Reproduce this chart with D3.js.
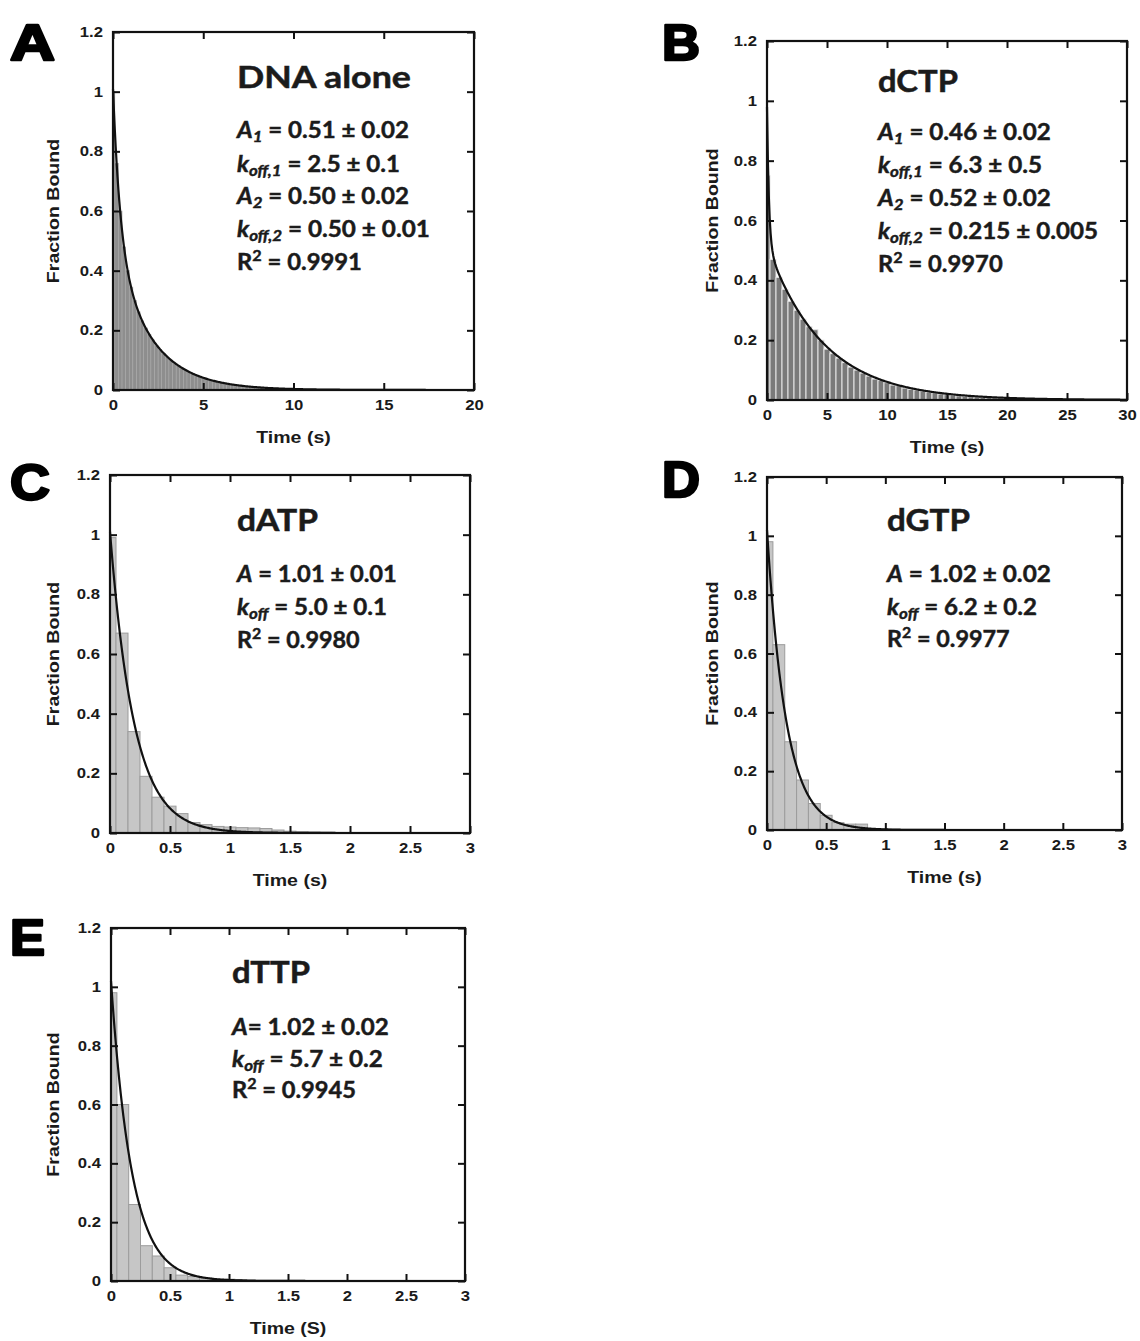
<!DOCTYPE html>
<html>
<head>
<meta charset="utf-8">
<script src="https://cdn.jsdelivr.net/npm/d3@7"></script>
<style>
  body { margin: 0; background: #fff; }
  svg { display: block; }
</style>
</head>
<body>
<svg id="fig" width="1140" height="1341"></svg>
<script>
// Fraction of complexes still bound vs. time, with single/double exponential fits

const panelLetters = ["A", "B", "C", "D", "E"];
const panelNames = ["DNA alone", "dCTP", "dATP", "dGTP", "dTTP"];
const timeTitles = ["Time (s)", "Time (s)", "Time (s)", "Time (s)", "Time (S)"];
const yTitle = "Fraction Bound";

const yTickValues = [0, 0.2, 0.4, 0.6, 0.8, 1, 1.2];
const xTickValues = [
  [0, 5, 10, 15, 20],
  [0, 5, 10, 15, 20, 25, 30],
  [0, 0.5, 1, 1.5, 2, 2.5, 3],
  [0, 0.5, 1, 1.5, 2, 2.5, 3],
  [0, 0.5, 1, 1.5, 2, 2.5, 3]
];

// Fit parameters (amplitude, k_off) as printed, with errors
const ampValues  = [["0.51", "0.50"], ["0.46", "0.52"], ["1.01"], ["1.02"], ["1.02"]];
const ampErrors  = [["0.02", "0.02"], ["0.02", "0.02"], ["0.01"], ["0.02"], ["0.02"]];
const koffValues = [["2.5", "0.50"], ["6.3", "0.215"], ["5.0"], ["6.2"], ["5.7"]];
const koffErrors = [["0.1", "0.01"], ["0.5", "0.005"], ["0.1"], ["0.2"], ["0.2"]];
const rSquared   = ["0.9991", "0.9970", "0.9980", "0.9977", "0.9945"];

// Histogram bins: width (s); bins are centred on multiples of the width
const binWidths = [0.2, 0.5, 0.1, 0.1, 0.1];

// Fraction bound per bin
const fracDNA = [1.00, 0.76, 0.60, 0.48, 0.40, 0.345, 0.30, 0.262, 0.232, 0.208,
  0.186, 0.168, 0.15, 0.136, 0.122, 0.11, 0.10, 0.09, 0.082, 0.074,
  0.067, 0.06, 0.055, 0.05, 0.045, 0.04, 0.037, 0.033, 0.03, 0.027,
  0.025, 0.022, 0.02, 0.018, 0.017, 0.015, 0.014, 0.012, 0.011, 0.010,
  0.009, 0.008, 0.007, 0.007, 0.006, 0.005, 0.005, 0.004, 0.004, 0.003,
  0.003, 0.003, 0.002, 0.002, 0.002, 0.002];
const fracDCTP = [0.75, 0.47, 0.41, 0.37, 0.33, 0.30, 0.27, 0.245, 0.235, 0.20,
  0.17, 0.155, 0.14, 0.125, 0.11, 0.10, 0.09, 0.08, 0.07, 0.065,
  0.058, 0.05, 0.048, 0.04, 0.036, 0.033, 0.03, 0.026, 0.024, 0.02,
  0.018, 0.016, 0.014, 0.012, 0.011, 0.010, 0.009, 0.008, 0.007, 0.006,
  0.005, 0.005, 0.004, 0.004, 0.003];
const fracDATP = [0.99, 0.67, 0.34, 0.19, 0.12, 0.09, 0.065, 0.035, 0.028, 0.022,
  0.02, 0.018, 0.017, 0.015, 0.01, 0.006, 0.004, 0.003, 0.002];
const fracDGTP = [0.98, 0.63, 0.30, 0.17, 0.09, 0.05, 0.025, 0.02, 0.02, 0.005, 0.003];
const fracDTTP = [0.98, 0.60, 0.26, 0.12, 0.085, 0.045, 0.02, 0.015, 0.01, 0.005, 0.006, 0.005];
const fracBound = [fracDNA, fracDCTP, fracDATP, fracDGTP, fracDTTP];

// ---- layout ----
const frames = [
  { l: 113, r: 474, t: 32,  b: 390,  letter: [10, 60, 45],  yTitleX: 53 },
  { l: 767, r: 1127, t: 41, b: 400,  letter: [662, 60, 38], yTitleX: 712 },
  { l: 110, r: 470, t: 475, b: 833,  letter: [10, 500, 40], yTitleX: 53 },
  { l: 767, r: 1122, t: 477, b: 830, letter: [662, 497, 38], yTitleX: 712 },
  { l: 111, r: 465, t: 928, b: 1281, letter: [10, 955, 35], yTitleX: 53 }
];
const annot = [
  { x: 237, title: 88,  titleW: 174, lines: [138, 172, 204, 237, 270], widths: [173, 163, 173, 193, 125] },
  { x: 878, title: 92,  titleW: 80,  lines: [140, 173, 206, 239, 272], widths: [174, 164, 174, 220, 125] },
  { x: 237, title: 531, titleW: 81,  lines: [582, 615, 648], widths: [161, 150, 123] },
  { x: 887, title: 531, titleW: 83,  lines: [582, 615, 647], widths: [165, 150, 123] },
  { x: 232, title: 983, titleW: 78,  lines: [1035, 1067, 1098], widths: [158, 151, 124] }
];
const barStyles = [
  { fill: "#8e8e8e", stroke: "#a8a8a8", sw: 0.6 },
  { fill: "#7a7a7a", stroke: "#e6e6e6", sw: 1 },
  { fill: "#c6c6c6", stroke: "#9c9c9c", sw: 1 },
  { fill: "#c6c6c6", stroke: "#9c9c9c", sw: 1 },
  { fill: "#c6c6c6", stroke: "#9c9c9c", sw: 1 }
];

const svg = d3.select("#fig");
const AX_FONT = "'Liberation Sans', Arial, sans-serif";
const NOTE_FONT = "Lato, 'Open Sans', sans-serif";
const STRETCH = 1.15;

// scale a start-anchored text horizontally to a target width
function fitText(sel, targetW, x, y) {
  const w = sel.node().getBBox().width;
  sel.attr("transform", `translate(${x},${y}) scale(${targetW / w},1)`);
}

function richText(g, segs, size) {
  const t = g.append("text")
    .attr("font-family", NOTE_FONT)
    .attr("font-weight", 700)
    .attr("font-size", size)
    .attr("fill", "#1b1b1b")
    .attr("stroke", "#1b1b1b")
    .attr("stroke-width", 0.45);
  let shift = 0;
  segs.forEach(s => {
    const sp = t.append("tspan").text(s.t);
    if (s.it) sp.attr("font-style", "italic");
    let target = 0;
    if (s.sub) { sp.attr("font-size", size * 0.7); target = 4; }
    if (s.sup) { sp.attr("font-size", size * 0.68); target = -9; }
    sp.attr("dy", target - shift);
    shift = target;
  });
  return t;
}

frames.forEach((f, p) => {
  const g = svg.append("g");
  const xMax = xTickValues[p][xTickValues[p].length - 1];
  const x = d3.scaleLinear().domain([0, xMax]).range([f.l, f.r]);
  const y = d3.scaleLinear().domain([0, 1.2]).range([f.b, f.t]);

  // histogram bars
  const w = binWidths[p];
  const bins = fracBound[p].map((v, i) => {
    const c = i * w;
    return { x0: Math.max(0, c - w / 2), x1: c + w / 2, v };
  });
  g.append("g").selectAll("rect").data(bins).join("rect")
    .attr("x", d => x(d.x0))
    .attr("width", d => x(d.x1) - x(d.x0))
    .attr("y", d => y(d.v))
    .attr("height", d => y(0) - y(d.v))
    .attr("fill", barStyles[p].fill)
    .attr("stroke", barStyles[p].stroke)
    .attr("stroke-width", barStyles[p].sw);

  // fitted exponential decay
  const amps = ampValues[p].map(Number);
  const ks = koffValues[p].map(Number);
  const fit = t => d3.sum(amps, (a, i) => a * Math.exp(-ks[i] * t));
  const ts = d3.range(0, 401).map(i => i * xMax / 400);
  g.append("path")
    .attr("d", d3.line().x(t => x(t)).y(t => y(fit(t)))(ts))
    .attr("fill", "none")
    .attr("stroke", "#111")
    .attr("stroke-width", 2.2);

  // axes with inward ticks on all four sides
  const fmt = d => String(d);
  const axB = g.append("g").attr("transform", `translate(0,${f.b})`)
    .call(d3.axisBottom(x).tickValues(xTickValues[p]).tickFormat(fmt).tickSize(-7).tickPadding(10));
  const axL = g.append("g").attr("transform", `translate(${f.l},0)`)
    .call(d3.axisLeft(y).tickValues(yTickValues).tickFormat(fmt).tickSize(-7).tickPadding(10));
  g.append("g").attr("transform", `translate(0,${f.t})`)
    .call(d3.axisTop(x).tickValues(xTickValues[p]).tickFormat("").tickSize(-7));
  g.append("g").attr("transform", `translate(${f.r},0)`)
    .call(d3.axisRight(y).tickValues(yTickValues).tickFormat("").tickSize(-7));
  g.selectAll(".domain").remove();
  g.selectAll(".tick line").attr("stroke", "#111").attr("stroke-width", 2);
  g.selectAll(".tick text")
    .attr("font-family", AX_FONT).attr("font-weight", 700).attr("font-size", 14.5)
    .attr("fill", "#1a1a1a");
  axB.selectAll(".tick text").attr("transform", `scale(${STRETCH},1)`);
  axL.selectAll(".tick text").attr("x", -10 / STRETCH).attr("transform", `scale(${STRETCH},1)`);

  g.append("rect")
    .attr("x", f.l).attr("y", f.t).attr("width", f.r - f.l).attr("height", f.b - f.t)
    .attr("fill", "none").attr("stroke", "#111").attr("stroke-width", 2.2);

  // axis titles
  g.append("text").text(timeTitles[p])
    .attr("font-family", AX_FONT).attr("font-weight", 700).attr("font-size", 17)
    .attr("text-anchor", "middle").attr("dy", "0.35em").attr("fill", "#1a1a1a")
    .attr("transform", `translate(${(f.l + f.r) / 2},${f.b + 47}) scale(${STRETCH},1)`);
  g.append("text").text(yTitle)
    .attr("font-family", AX_FONT).attr("font-weight", 700).attr("font-size", 17)
    .attr("text-anchor", "middle").attr("dy", "0.35em").attr("fill", "#1a1a1a")
    .attr("transform", `translate(${f.yTitleX},${(f.t + f.b) / 2}) rotate(-90) scale(${STRETCH},1)`);

  // panel letter
  const lt = g.append("text").text(panelLetters[p])
    .attr("font-family", AX_FONT).attr("font-weight", 700).attr("font-size", 50)
    .attr("fill", "#000").attr("stroke", "#000").attr("stroke-width", 2.5)
    .attr("stroke-linejoin", "round");
  fitText(lt, f.letter[2], f.letter[0], f.letter[1]);

  // annotation: name and fit parameters
  const a = annot[p];
  const tt = g.append("text").text(panelNames[p])
    .attr("font-family", NOTE_FONT).attr("font-weight", 700).attr("font-size", 30)
    .attr("fill", "#1b1b1b").attr("stroke", "#1b1b1b").attr("stroke-width", 0.5);
  fitText(tt, a.titleW, a.x, a.title);

  const lines = [];
  const two = ampValues[p].length > 1;
  ampValues[p].forEach((av, i) => {
    const eq = (p === 4) ? "= " : " = ";
    lines.push(two
      ? [{ t: "A", it: true }, { t: String(i + 1), it: true, sub: true }, { t: ` = ${av} ± ${ampErrors[p][i]}` }]
      : [{ t: "A", it: true }, { t: `${eq}${av} ± ${ampErrors[p][i]}` }]);
    lines.push([{ t: "k", it: true }, { t: two ? `off,${i + 1}` : "off", it: true, sub: true },
                { t: ` = ${koffValues[p][i]} ± ${koffErrors[p][i]}` }]);
  });
  lines.push([{ t: "R" }, { t: "2", sup: true }, { t: ` = ${rSquared[p]}` }]);
  lines.forEach((segs, i) => {
    const lt2 = richText(g, segs, 22);
    fitText(lt2, a.widths[i], a.x, a.lines[i]);
  });
});
</script>
</body>
</html>
